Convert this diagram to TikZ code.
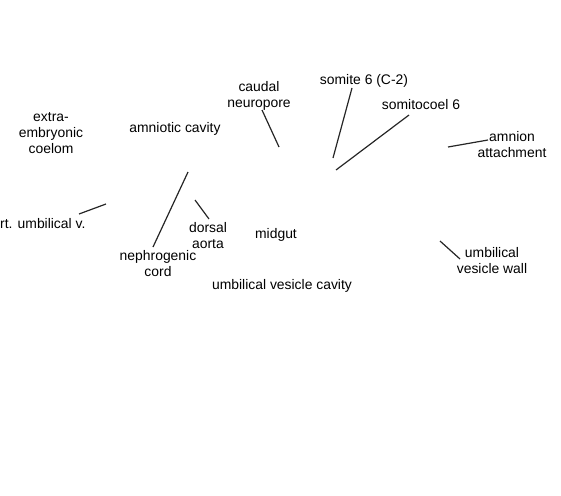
\documentclass[tikz,border=0pt]{standalone}
\usepackage{fontspec}
\setmainfont{Liberation Sans}
\begin{document}
\begin{tikzpicture}[x=1pt,y=-1pt,
  lbl/.style={font=\fontsize{13.9}{16}\selectfont,align=center,inner sep=0pt},
  lead/.style={line width=1.2pt,black!85}]
\useasboundingbox (0,0) rectangle (561,495);
% labels
\node[lbl] (coelom) at (51,133.5) {extra-\\embryonic\\coelom};
\node[lbl] (amcav) at (175,128.5) {amniotic cavity};
\node[lbl] (neuro) at (259,96) {caudal\\neuropore};
\node[lbl] (somite) at (364,81) {somite 6 (C-2)};
\node[lbl] (coel) at (421,105) {somitocoel 6};
\node[lbl] (amnion) at (512,145) {amnion\\attachment};
\node[lbl,anchor=west] (rtumb) at (0,223.5) {rt. umbilical v.};
\node[lbl] (nephro) at (158,264) {nephrogenic\\cord};
\node[lbl] (aorta) at (208,236) {dorsal\\aorta};
\node[lbl] (midgut) at (276,234.5) {midgut};
\node[lbl] (uvcav) at (282,285.5) {umbilical vesicle cavity};
\node[lbl] (uvwall) at (492,261) {umbilical\\vesicle wall};
% leader ends
\coordinate (a1) at (262,110); \coordinate (b1) at (279,147);
\coordinate (a2) at (352,88);  \coordinate (b2) at (333,158);
\coordinate (a3) at (409,115); \coordinate (b3) at (336,170);
\coordinate (a4) at (488,140); \coordinate (b4) at (448,147);
\coordinate (a5) at (79,214);  \coordinate (b5) at (106,204);
\coordinate (a6) at (153,247); \coordinate (b6) at (188,172);
\coordinate (a7) at (209,219); \coordinate (b7) at (195,200);
\coordinate (a8) at (460,259); \coordinate (b8) at (440,241);
\foreach \i in {1,...,8} \draw[lead] (a\i)--(b\i);
\end{tikzpicture}
\end{document}
